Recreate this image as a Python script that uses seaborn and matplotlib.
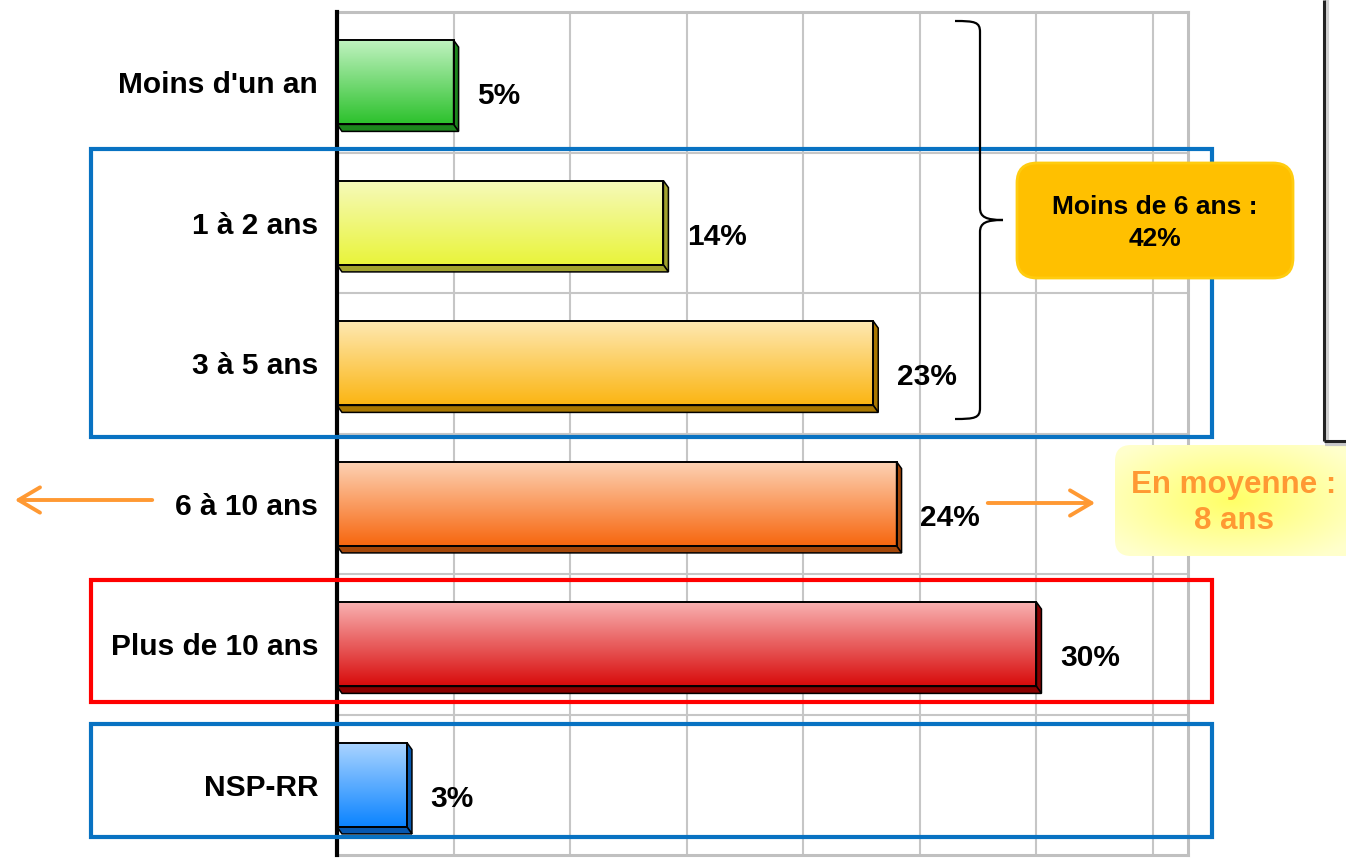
import numpy as np
import pandas as pd
import matplotlib
matplotlib.use("Agg")
import matplotlib.pyplot as plt
import matplotlib.colors as mcolors
from matplotlib.patches import Rectangle, Polygon, FancyBboxPatch, FancyArrowPatch, PathPatch
from matplotlib.path import Path
import seaborn as sns

# Durée : répartition des réponses (%)
categories = ["Moins d'un an", "1 à 2 ans", "3 à 5 ans", "6 à 10 ans", "Plus de 10 ans", "NSP-RR"]
values = [5, 14, 23, 24, 30, 3]
top_colors = ["#c2f3c2", "#f6fabb", "#fee9b4", "#fdd3b6", "#f9b3b3", "#acd5ff"]
bottom_colors = ["#2cc12c", "#e9f43a", "#fbb512", "#f7660e", "#d80b0b", "#0a83ff"]
depth_colors = ["#1d861d", "#a1a22e", "#a97700", "#a44608", "#8a0000", "#0658b0"]
group_label = "Moins de 6 ans :\n42%"
mean_label = "En moyenne :\n8 ans"

sns.set_theme(style="white")
plt.rcParams["font.family"] = ["Liberation Sans", "DejaVu Sans"]

W, H = 1346, 860
fig = plt.figure(figsize=(W / 100, H / 100), dpi=100)
fig.patch.set_facecolor("white")

# plot area
ax_l, ax_r, ax_t, ax_b = 337, 1188, 12, 855
ax = fig.add_axes([ax_l / W, 1 - ax_b / H, (ax_r - ax_l) / W, (ax_b - ax_t) / H])

df = pd.DataFrame({"categorie": categories, "pct": values})
sns.barplot(data=df, x="pct", y="categorie", hue="categorie", palette=bottom_colors,
            legend=False, orient="h", width=0.6, ax=ax, edgecolor="none", saturation=1)

xmax = 36.5
ax.set_xlim(0, xmax)
ax.set_ylim(len(categories) - 0.5, -0.5)

# grid on the back wall
ax.set_xticks(np.arange(5, 36, 5))
ax.set_yticks(np.arange(len(categories)))
ax.set_yticks(np.arange(0.5, len(categories) - 0.5, 1), minor=True)
ax.xaxis.grid(True, color="#c6c6c6", lw=1.5)
ax.yaxis.grid(True, which="minor", color="#c6c6c6", lw=1.5)
ax.yaxis.grid(False, which="major")
ax.set_axisbelow(True)
ax.set_xticklabels([])
ax.tick_params(axis="both", which="both", length=0)
ax.tick_params(axis="y", pad=13.5)
ax.set_yticklabels(categories, fontsize=21.5, fontweight="bold", color="black")
ax.set_xlabel("")
ax.set_ylabel("")
for side in ["top", "right", "bottom"]:
    ax.spines[side].set_color("#c0c0c0")
    ax.spines[side].set_linewidth(2.2)
ax.spines["left"].set_color("black")
ax.spines["left"].set_linewidth(3.0)
ax.spines["left"].set_zorder(6)

# pseudo 3D bars: vertical gradient on the face + right and bottom depth faces
px_x = (ax_r - ax_l) / xmax
px_y = (ax_b - ax_t) / len(categories)
dx, dy = 5 / px_x, 7 / px_y
bars = sorted(ax.patches, key=lambda p: p.get_y())
for i, p in enumerate(bars):
    x0, y0 = p.get_x(), p.get_y()
    w, h = p.get_width(), p.get_height()
    x1, y1 = x0 + w, y0 + h
    p.set_zorder(2)
    cmap = mcolors.LinearSegmentedColormap.from_list("g", [top_colors[i], bottom_colors[i]])
    grad = np.linspace(0, 1, 256).reshape(-1, 1)
    im = ax.imshow(grad, cmap=cmap, aspect="auto", extent=(x0, x1, y1, y0),
                   origin="upper", interpolation="bicubic", zorder=2.1)
    im.set_clip_path(p)
    side = Polygon([(x1, y0), (x1 + dx, y0 + dy), (x1 + dx, y1 + dy), (x1, y1)],
                   closed=True, fc=depth_colors[i], ec="black", lw=1.1, zorder=2.2)
    bottom = Polygon([(x0, y1), (x1, y1), (x1 + dx, y1 + dy), (x0 + dx, y1 + dy)],
                     closed=True, fc=depth_colors[i], ec="black", lw=1.1, zorder=2.2)
    ax.add_patch(side)
    ax.add_patch(bottom)
    ax.add_patch(Rectangle((x0, y0), w, h, fill=False, ec="black", lw=1.4, zorder=2.3))
    ax.annotate(f"{values[i]}%", xy=(x1, (y0 + y1) / 2), xytext=(17, -10),
                textcoords="offset points", ha="left", va="center",
                fontsize=21.5, fontweight="bold", color="black", zorder=3)

ax.set_xlim(0, xmax)
ax.set_ylim(len(categories) - 0.5, -0.5)

# overlay in pixel coordinates for frames, brace, callouts and arrows
ov = fig.add_axes([0, 0, 1, 1], zorder=5)
ov.set_xlim(0, W)
ov.set_ylim(H, 0)
ov.axis("off")
ov.patch.set_alpha(0)

blue = "#0872c2"
ov.add_patch(Rectangle((91, 149), 1212 - 91, 437 - 149, fill=False, ec=blue, lw=3.0))
ov.add_patch(Rectangle((91, 580), 1212 - 91, 702 - 580, fill=False, ec="#ff0000", lw=3.0))
ov.add_patch(Rectangle((91, 724), 1212 - 91, 837 - 724, fill=False, ec=blue, lw=3.0))

# curly brace grouping the first three classes
verts = [(955, 21), (975, 21), (980, 22), (980, 32),
         (980, 208),
         (980, 217), (986, 220), (1003, 220),
         (986, 220), (980, 223), (980, 232),
         (980, 408),
         (980, 418), (975, 419), (955, 419)]
codes = [Path.MOVETO, Path.CURVE4, Path.CURVE4, Path.CURVE4,
         Path.LINETO,
         Path.CURVE4, Path.CURVE4, Path.CURVE4,
         Path.CURVE4, Path.CURVE4, Path.CURVE4,
         Path.LINETO,
         Path.CURVE4, Path.CURVE4, Path.CURVE4]
ov.add_patch(PathPatch(Path(verts, codes), fill=False, ec="black", lw=1.6))

# gold callout
ov.add_patch(FancyBboxPatch((1017, 163), 1293 - 1017, 278 - 163,
                            boxstyle="round,pad=0,rounding_size=20",
                            fc="#ffc000", ec="#ffcc10", lw=2))
ov.text(1155, 223, group_label, ha="center", va="center", fontsize=19,
        fontweight="bold", color="black", linespacing=1.38)

# soft yellow callout with radial glow
bx0, bx1, by0, by1 = 1115, 1370, 445, 556
gx = np.linspace(bx0, bx1, 300)
gy = np.linspace(by0, by1, 140)
GX, GY = np.meshgrid(gx, gy)
r = np.sqrt(((GX - 1232) / 150) ** 2 + ((GY - 500) / 70) ** 2)
r = np.clip(r, 0, 1)
c_in = np.array(mcolors.to_rgb("#ffff66"))
c_out = np.array(mcolors.to_rgb("#ffffcc"))
img = c_in[None, None, :] * (1 - r[..., None]) + c_out[None, None, :] * r[..., None]
glow_box = FancyBboxPatch((bx0, by0), bx1 - bx0, by1 - by0,
                          boxstyle="round,pad=0,rounding_size=16",
                          fc="none", ec="none")
ov.add_patch(glow_box)
gim = ov.imshow(img, extent=(bx0, bx1, by1, by0), origin="upper", aspect="auto",
                interpolation="bilinear", zorder=1)
gim.set_clip_path(glow_box)
ov.text(1234, 503, mean_label, ha="center", va="center", fontsize=22.5,
        fontweight="bold", color="#ff9933", linespacing=1.3, zorder=3)

# arrows
orange = "#ff9933"
for (xa, xb, ya) in [(155, 12, 500), (985, 1098, 503)]:
    ov.add_patch(FancyArrowPatch((xa, ya), (xb, ya), arrowstyle="->,head_length=1.1,head_width=0.65",
                                 color=orange, lw=2.8, mutation_scale=14, zorder=3))

# edge of the neighbouring frame on the right
ov.plot([1327, 1327], [0, 441], color="#d0d0d0", lw=3, solid_capstyle="butt")
ov.plot([1325, 1346], [444, 444], color="#c8c8c8", lw=3, solid_capstyle="butt")
ov.plot([1324, 1324], [0, 441], color="#222222", lw=2.2, solid_capstyle="butt")
ov.plot([1324, 1346], [441, 441], color="#222222", lw=2.2, solid_capstyle="butt")

ov.set_xlim(0, W)
ov.set_ylim(H, 0)

fig.savefig("out.png", dpi=100, facecolor="white")
